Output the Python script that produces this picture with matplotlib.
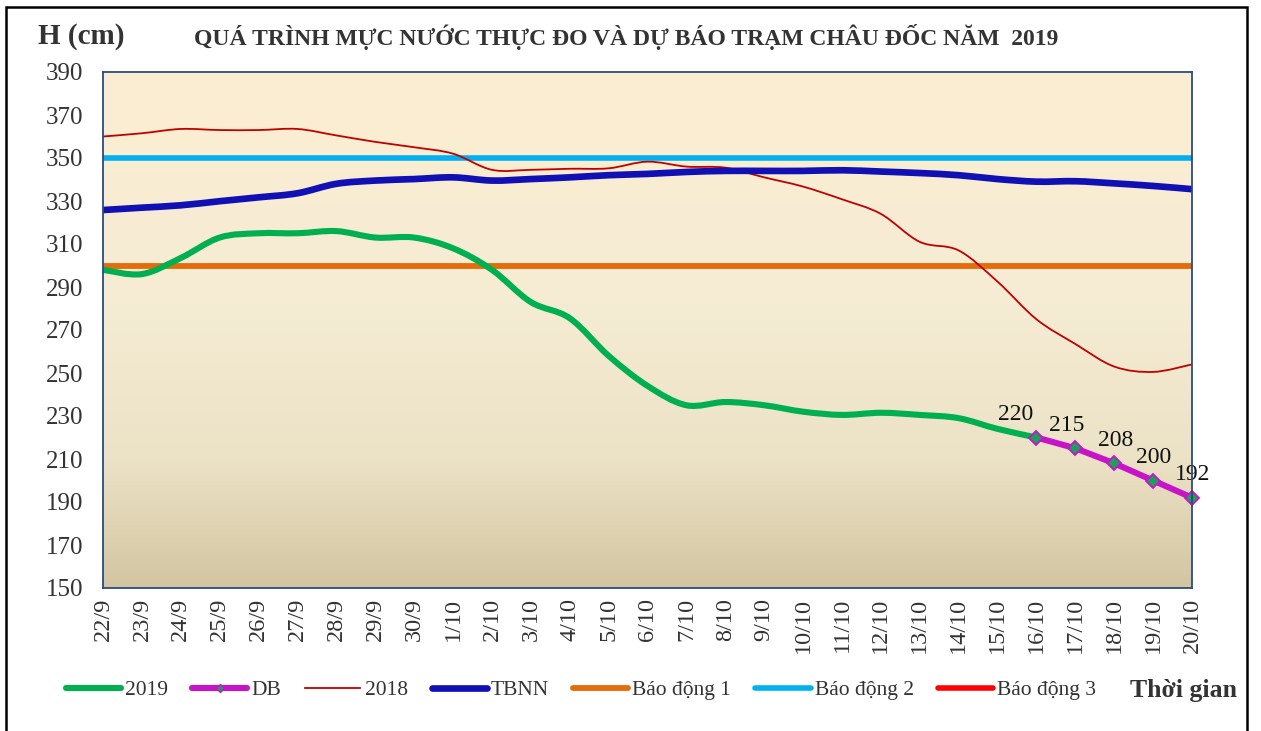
import numpy as np
import matplotlib
matplotlib.use("Agg")
import matplotlib.pyplot as plt
from matplotlib.path import Path
from matplotlib.patches import PathPatch, Rectangle
from matplotlib.lines import Line2D
from matplotlib.colors import LinearSegmentedColormap

# ---------------- data ----------------
dates = ["22/9", "23/9", "24/9", "25/9", "26/9", "27/9", "28/9", "29/9", "30/9",
         "1/10", "2/10", "3/10", "4/10", "5/10", "6/10", "7/10", "8/10", "9/10",
         "10/10", "11/10", "12/10", "13/10", "14/10", "15/10", "16/10", "17/10",
         "18/10", "19/10", "20/10"]

obs_2019 = [298, 296, 303.5, 313, 315, 315, 316, 313, 313, 308, 298, 283, 275.5,
            258, 244, 235, 236.5, 235, 232, 230.5, 231.5, 230.5, 229, 224, 220]

forecast_idx = [24, 25, 26, 27, 28]
forecast = [220, 215, 208, 200, 192]

obs_2018 = [360, 361.5, 363.5, 363, 363, 363.5, 360.5, 357.5, 355, 352, 344.5,
            344.5, 345, 345.2, 348.3, 346, 345.5, 341, 336.7, 330.8, 324, 311,
            307, 292.5, 275, 263.5, 253, 250.5, 254]

tbnn = [325.8, 326.9, 328, 329.9, 331.7, 333.6, 338, 339.5, 340.2, 341, 339.5,
        340.2, 341, 342, 342.6, 343.5, 344, 344, 344, 344.3, 343.7, 343, 342,
        340.2, 339, 339.2, 338.2, 337, 335.5]

alarm1 = 300
alarm2 = 350
alarm3 = 400

yticks = list(range(150, 391, 20))

# ---------------- style ----------------
SERIF = ["Liberation Serif", "DejaVu Serif"]
plt.rcParams["font.family"] = SERIF
TXT = "#333333"

fig = plt.figure(figsize=(12.61, 7.31), dpi=100)
L, R, T, B = 103, 1192, 72, 588
W, H = 1261, 731
ax = fig.add_axes([L / W, 1 - B / H, (R - L) / W, (B - T) / H])

n = len(dates)
ax.set_xlim(0, n - 1)
ax.set_ylim(150, 390)

# gradient background (row 0 = top)
cmap = LinearSegmentedColormap.from_list(
    "bg", [(0, "#FCEED2"), (0.45, "#F5ECD4"), (0.75, "#ECE2C6"), (1.0, "#D3C5A1")])
grad = np.linspace(0, 1, 256).reshape(-1, 1)
ax.imshow(grad, cmap=cmap, aspect="auto", extent=[0, n - 1, 150, 390],
          origin="upper", zorder=0, interpolation="bicubic")


def smooth_patch(xs, ys, **kw):
    pts = np.column_stack([xs, ys]).astype(float)
    m = len(pts)
    verts = [pts[0]]
    codes = [Path.MOVETO]
    for i in range(m - 1):
        p0 = pts[i - 1] if i > 0 else pts[i]
        p1 = pts[i]
        p2 = pts[i + 1]
        p3 = pts[i + 2] if i + 2 < m else pts[i + 1]
        c1 = p1 + (p2 - p0) / 6.0
        c2 = p2 - (p3 - p1) / 6.0
        verts += [c1, c2, p2]
        codes += [Path.CURVE4] * 3
    return PathPatch(Path(verts, codes), fill=False, **kw)


x_all = np.arange(n)
C2019 = "#00B050"
CDB = "#C814C8"
C2018 = "#C00000"
CTB = "#1010B4"
CA1 = "#E46C0A"
CA2 = "#00B0F0"
CA3 = "#FF0000"

ax.axhline(alarm1, color=CA1, lw=4.2, zorder=2, solid_capstyle="butt")
ax.axhline(alarm2, color=CA2, lw=4.0, zorder=2, solid_capstyle="butt")
ax.axhline(alarm3, color=CA3, lw=4.0, zorder=2)

ax.add_patch(smooth_patch(x_all, obs_2018, edgecolor=C2018, lw=1.3, zorder=3))
ax.add_patch(smooth_patch(x_all, tbnn, edgecolor=CTB, lw=4.8, zorder=3,
                          capstyle="round"))
ax.add_patch(smooth_patch(x_all[:len(obs_2019)], obs_2019, edgecolor=C2019,
                          lw=4.4, zorder=4, capstyle="round"))
ax.plot(forecast_idx, forecast, color=CDB, lw=4.4, zorder=5,
        solid_capstyle="round", marker="D", markersize=7.5,
        markerfacecolor="#1E9E5A", markeredgecolor=CDB, markeredgewidth=1.3,
        clip_on=False)

label_dx = [-15, -6.5, 0.7, 0.7, 0.7]
for xi, v, dx in zip(forecast_idx, forecast, label_dx):
    ax.annotate(f"{v}", (xi, v), xytext=(dx, 16.5), textcoords="offset points",
                ha="center", va="center", fontsize=17, color="#111111",
                annotation_clip=False, zorder=6)

ax.set_yticks(yticks)
ax.set_yticklabels([str(v) for v in yticks], fontsize=18, color=TXT)
ax.set_xticks(x_all)
ax.set_xticklabels(dates, rotation=90, fontsize=17.5, color=TXT)
ax.tick_params(axis="both", length=0)
ax.tick_params(axis="y", pad=14)
ax.tick_params(axis="x", pad=7)
for s in ax.spines.values():
    s.set_color("#2B4C7E")
    s.set_linewidth(1.3)
    s.set_zorder(7)

# titles
fig.text(38 / W, 1 - 37 / H, "H (cm)", fontsize=21, fontweight="bold",
         color=TXT, va="center", ha="left")
fig.text(626 / W, 1 - 37 / H,
         "QUÁ TRÌNH MỰC NƯỚC THỰC ĐO VÀ DỰ BÁO TRẠM CHÂU ĐỐC NĂM  2019",
         fontsize=17, fontweight="bold", color=TXT, va="center", ha="center")

# legend
handles = [
    Line2D([], [], color=C2019, lw=4.4, solid_capstyle="round"),
    Line2D([], [], color=CDB, lw=4.4, marker="D", markersize=4,
           markerfacecolor="#1E9E5A", markeredgecolor=CDB, solid_capstyle="round"),
    Line2D([], [], color=C2018, lw=1.3),
    Line2D([], [], color=CTB, lw=4.8, solid_capstyle="round"),
    Line2D([], [], color=CA1, lw=4.2, solid_capstyle="round"),
    Line2D([], [], color=CA2, lw=4.0, solid_capstyle="round"),
    Line2D([], [], color=CA3, lw=4.0, solid_capstyle="round"),
]
labels = ["2019", "DB", "2018", "TBNN", "Báo động 1", "Báo động 2", "Báo động 3"]
leg = fig.legend(handles, labels, loc="center left",
                 bbox_to_anchor=(66 / W, 1 - 690 / H), ncol=7, frameon=False,
                 fontsize=15.5, handlelength=2.56, handletextpad=0.19,
                 columnspacing=1.12, borderaxespad=0, borderpad=0)
for t in leg.get_texts():
    t.set_color(TXT)

fig.text(1237 / W, 1 - 690 / H, "Thời gian", fontsize=18.5, fontweight="bold",
         color=TXT, va="center", ha="right")

# outer frame
fig.add_artist(Rectangle((6 / W, -0.05), (1247 - 6) / W, 1.05 - 7 / H,
                         transform=fig.transFigure, fill=False,
                         edgecolor="black", lw=1.8))

fig.savefig("out.png", dpi=100, facecolor="white")
